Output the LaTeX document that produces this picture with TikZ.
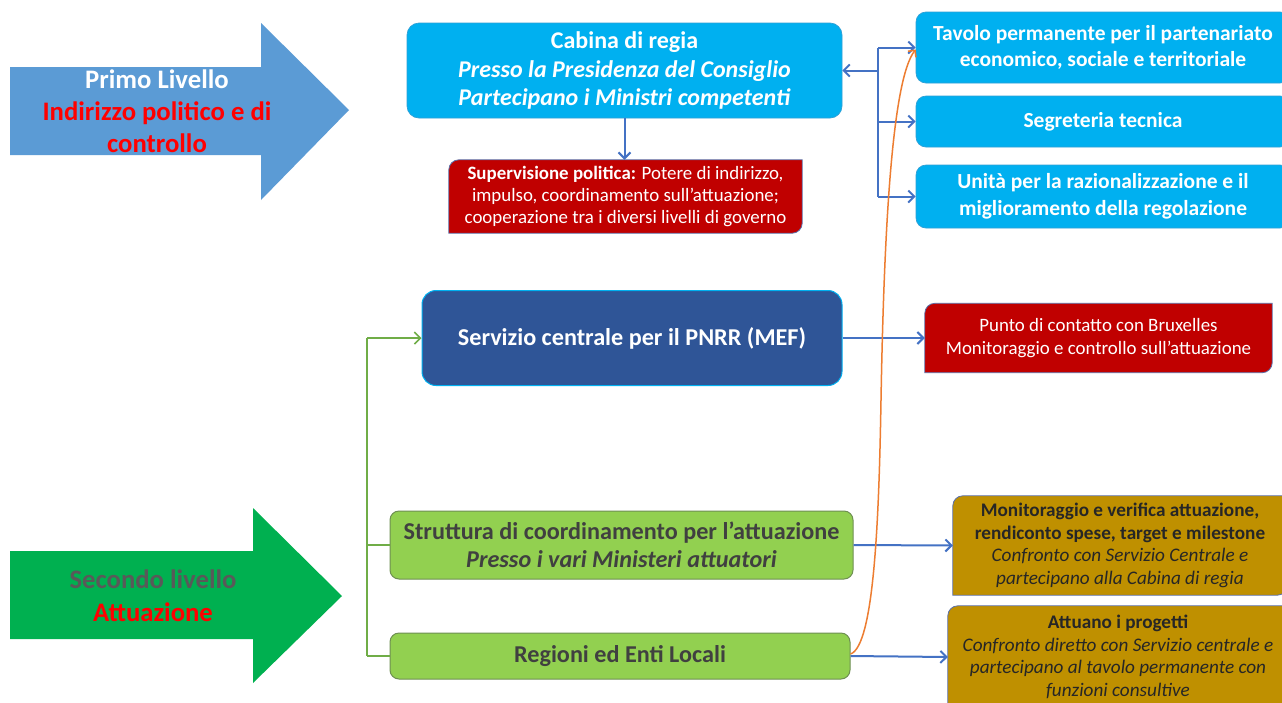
\documentclass[tikz,border=0pt]{standalone}
\usepackage{fontspec}
\setmainfont{Carlito}
\usetikzlibrary{arrows.meta}
\definecolor{arrA}{HTML}{5B9BD5}
\definecolor{arrB}{HTML}{00B050}
\definecolor{lvred}{HTML}{FF0000}
\definecolor{lvgrey}{HTML}{595959}
\definecolor{cabfill}{HTML}{00B0F0}
\definecolor{cabline}{HTML}{2E9FD6}
\definecolor{servfill}{HTML}{2F5597}
\definecolor{redfill}{HTML}{C00000}
\definecolor{goldfill}{HTML}{BF9000}
\definecolor{greenfill}{HTML}{92D050}
\definecolor{greenline}{HTML}{6E8F52}
\definecolor{boxline}{HTML}{5B6FA8}
\definecolor{darktext}{HTML}{262626}
\definecolor{strtext}{HTML}{404040}
\definecolor{connblue}{HTML}{4472C4}
\definecolor{conngreen}{HTML}{70AD47}
\definecolor{connorange}{HTML}{ED7D31}
\tikzset{
  tipA/.tip={Straight Barb[length=6pt,width=12pt]},
  txt/.style={align=center, inner sep=0pt},
  cabbox/.style={txt, fill=cabfill, draw=cabline, line width=0.7pt, rounded corners=12pt, text=white, font=\fontsize{24}{28.5}\selectfont\bfseries},
  sidebox/.style={cabbox, rounded corners=10pt, font=\fontsize{21.5}{26.5}\selectfont\bfseries},
  servbox/.style={txt, fill=servfill, draw=cabfill, line width=1pt, rounded corners=14pt, text=white, font=\fontsize{24.2}{28}\selectfont\bfseries},
  greenbox/.style={txt, fill=greenfill, draw=greenline, line width=1pt, rounded corners=9pt, text=strtext, font=\fontsize{24.2}{28}\selectfont\bfseries},
  plainbox/.style={txt},
  diagfill/.style={line width=0.8pt, draw=boxline},
  bc/.style={draw=connblue, line width=2pt},
  bca/.style={bc, -tipA},
  gc/.style={draw=conngreen, line width=1.6pt},
  gca/.style={gc, -tipA},
  oc/.style={draw=connorange, line width=1.5pt, -{Straight Barb[length=5pt,width=10pt]}},
}
\newcommand{\diagbox}[2]{%
  \path[diagfill, fill=#2] (#1.north east) [rounded corners=10pt] -- (#1.south east) [sharp corners] -- (#1.south west) [rounded corners=10pt] -- (#1.north west) [sharp corners] -- cycle;}
\begin{document}
\begin{tikzpicture}[x=1pt,y=-1pt]
\useasboundingbox (0,0) rectangle (1282,702);
\clip (0,0) rectangle (1282,702);
\fill[white] (0,0) rectangle (1282,702);

% big arrows
\fill[arrA] (10,67) -- (261,67) -- (261,23) -- (349,110) -- (261,200) -- (261,155) -- (10,155) -- cycle;
\node[txt, font=\fontsize{26.7}{32}\selectfont\bfseries] (lvl1) at (157,111)
  {\textcolor{white}{Primo Livello}\\\textcolor{lvred}{Indirizzo politico e di}\\\textcolor{lvred}{controllo}};
\fill[arrB] (10,551) -- (253,551) -- (253,508) -- (342,596) -- (253,683) -- (253,639) -- (10,639) -- cycle;
\node[txt, font=\fontsize{26.7}{33}\selectfont\bfseries] (lvl2) at (153,596)
  {\textcolor{lvgrey}{Secondo livello}\\\textcolor{lvred}{Attuazione}};

% top level
\node[cabbox, minimum width=435pt, minimum height=95pt] (cab) at (624.5,70.5)
  {Cabina di regia\\\textit{Presso la Presidenza del Consiglio}\\\textit{Partecipano i Ministri competenti}};
\node[plainbox, minimum width=353pt, minimum height=73pt] (sup) at (625.5,196.5) {};
\diagbox{sup}{redfill}
\node[txt, text=white, font=\fontsize{18.9}{22}\selectfont] at (sup.center)
  {\textbf{Supervisione politica:} Potere di indirizzo,\\impulso, coordinamento sull’attuazione;\\cooperazione tra i diversi livelli di governo};

\node[sidebox, minimum width=374pt, minimum height=71pt] (tav) at (1103,47.5)
  {Tavolo permanente per il partenariato\\economico, sociale e territoriale};
\node[sidebox, minimum width=374pt, minimum height=51pt] (seg) at (1103,121.5)
  {Segreteria tecnica};
\node[sidebox, minimum width=374pt, minimum height=63pt] (uni) at (1103,196.5)
  {Unità per la razionalizzazione e il\\miglioramento della regolazione};

\coordinate (j) at (878,70.5);
\coordinate (jt) at (878,47.5);
\coordinate (jb) at (878,196.5);
\draw[bca] (j) -- (cab.east);
\draw[bc] (jt) -- (jb);
\draw[bca] (jt) -- (tav.west);
\draw[bca] (jt |- seg.west) -- (seg.west);
\draw[bca] (jb) -- (uni.west);
\draw[bca] (cab.south) -- (cab.south |- sup.north);

% middle
\node[servbox, minimum width=420pt, minimum height=95pt] (serv) at (632,338)
  {Servizio centrale per il PNRR (MEF)};
\node[plainbox, minimum width=347pt, minimum height=69pt] (punto) at (1098.5,338) {};
\diagbox{punto}{redfill}
\node[txt, text=white, font=\fontsize{18.9}{23}\selectfont] at (punto.center)
  {Punto di contatto con Bruxelles\\Monitoraggio e controllo sull’attuazione};
\draw[bca] (serv.east) -- (punto.west);

% bottom
\node[greenbox, minimum width=463pt, minimum height=68pt] (strut) at (621.5,545)
  {Struttura di coordinamento per l’attuazione\\\textit{Presso i vari Ministeri attuatori}};
\node[greenbox, minimum width=460pt, minimum height=46pt] (reg) at (620,656)
  {Regioni ed Enti Locali};
\coordinate (gt) at (367,338);
\coordinate (gb) at (367,656);
\draw[gc] (gt) -- (gb);
\draw[gca] (gt) -- (serv.west);
\draw[gc] (gt |- strut.west) -- (strut.west);
\draw[gc] (gb) -- (reg.west);

\node[plainbox, minimum width=334pt, minimum height=99pt] (gold1) at (1120,545.5) {};
\diagbox{gold1}{goldfill}
\node[txt, text=darktext, font=\fontsize{19.2}{22.7}\selectfont] at (gold1.center)
  {\textbf{Monitoraggio e verifica attuazione,}\\\textbf{rendiconto spese, target e milestone}\\\textit{Confronto con Servizio Centrale e}\\\textit{partecipano alla Cabina di regia}};
\node[plainbox, minimum width=340pt, minimum height=102pt] (gold2) at (1118,657) {};
\diagbox{gold2}{goldfill}
\node[txt, text=darktext, font=\fontsize{19.2}{22.7}\selectfont] at (gold2.center)
  {\textbf{Attuano i progetti}\\\textit{Confronto diretto con Servizio centrale e}\\\textit{partecipano al tavolo permanente con}\\\textit{funzioni consultive}};
\draw[bca] (strut.east) -- (gold1.west);
\draw[bca] (reg.east) -- (gold2.west);

% orange curve
\coordinate (om) at (881,400);
\draw[oc] ([yshift=2pt]reg.east) .. controls (874,646) and (879,520) .. (om) .. controls (884,230) and (892,80) .. ([yshift=-2pt]tav.west);
\end{tikzpicture}
\end{document}
